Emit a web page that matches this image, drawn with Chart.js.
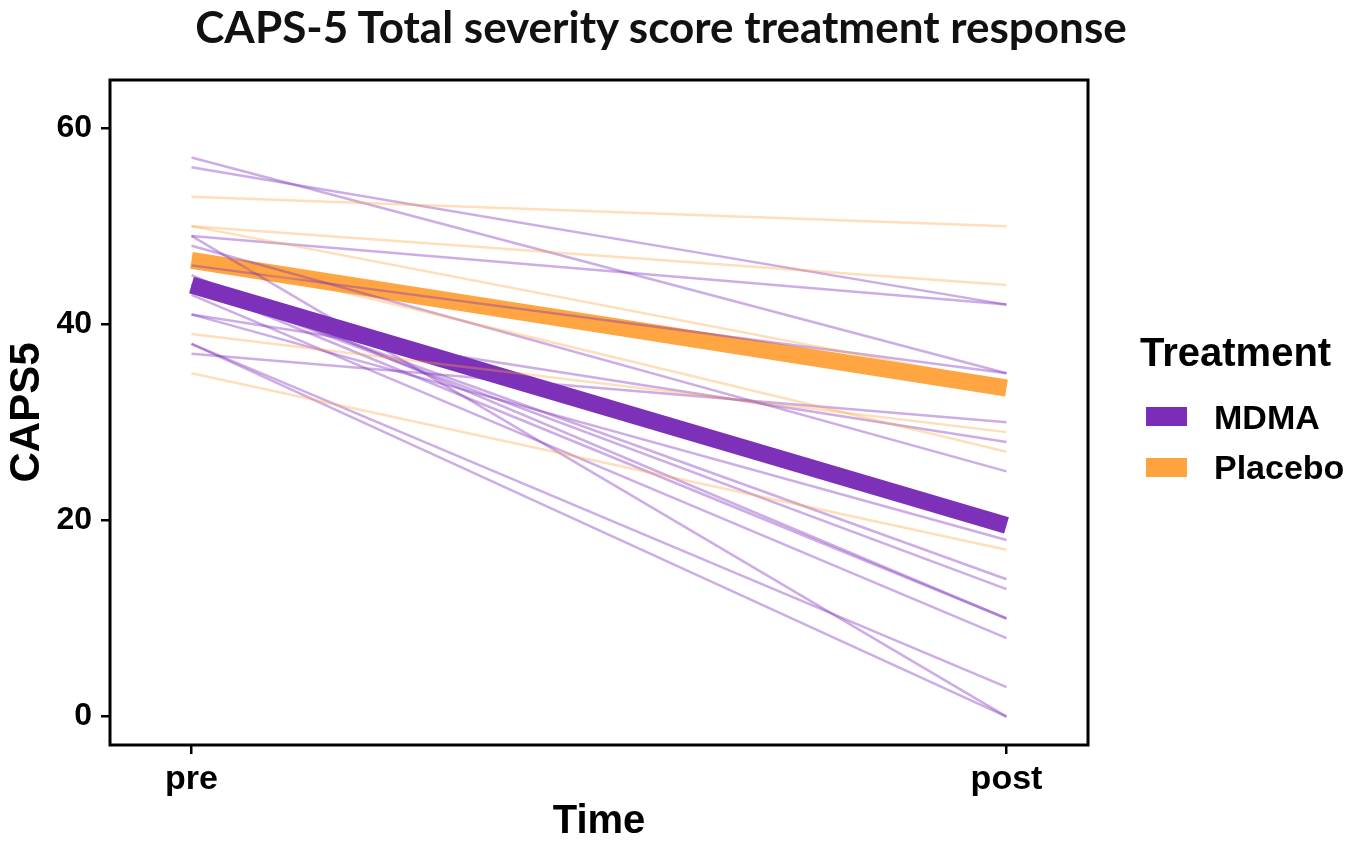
<!DOCTYPE html>
<html>
<head>
<meta charset="utf-8">
<script src="https://cdn.jsdelivr.net/npm/chart.js@4.4.1/dist/chart.umd.min.js"></script>
<style>
  body { margin: 0; background: #fff; }
  #wrap { position: relative; width: 1360px; height: 842px; }
  #title { position: absolute; left: 0; width: 1322px; top: 0px; text-align: center;
    font: 700 44px Lato, "Open Sans", sans-serif; color: #111; }
  .leg { position: absolute; font-family: "Liberation Sans", Arial, sans-serif; font-weight: 700; color: #000; }
  .box { position: absolute; width: 41px; height: 19px; }
</style>
</head>
<body>
<div id="wrap">
  <canvas id="chart" width="1360" height="842"></canvas>
  <div id="title">CAPS-5 Total severity score treatment response</div>
  <div class="leg" style="left:1140px; top:330px; font-size:40px;">Treatment</div>
  <div class="box" style="left:1146px; top:407px; background:#7b2cb8;"></div>
  <div class="leg" style="left:1214px; top:398px; font-size:34px;">MDMA</div>
  <div class="box" style="left:1146px; top:458px; background:#ffa33f;"></div>
  <div class="leg" style="left:1214px; top:448px; font-size:34px;">Placebo</div>
</div>
<script>
const timeLabels = ['pre', 'post'];
const yTicks = [0, 20, 40, 60];

// individual participants
const mdmaPre  = [57, 56, 49, 49, 48, 45, 44, 44, 43, 46, 41, 41, 38, 38, 37, 44];
const mdmaPost = [35, 42, 42, 0, 25, 10, 14, 13, 8, 35, 28, 18, 3, 0, 30, 10];
const placeboPre  = [53, 50, 50, 47, 39, 35];
const placeboPost = [50, 44, 34, 27, 29, 17];

// group means
const mdmaMean = [44, 19.5];
const placeboMean = [46.5, 33.5];

const pair = (a, b) => [{ x: 0, y: a }, { x: 1, y: b }];

const datasets = [];
placeboPre.forEach((v, i) => datasets.push({
  data: pair(v, placeboPost[i]), borderColor: 'rgba(255,160,60,0.35)', borderWidth: 2.5
}));
mdmaPre.forEach((v, i) => datasets.push({
  data: pair(v, mdmaPost[i]), borderColor: 'rgba(128,50,190,0.4)', borderWidth: 2.5
}));
datasets.push({ data: pair(placeboMean[0], placeboMean[1]), borderColor: 'rgba(255,160,55,0.95)', borderWidth: 17 });
datasets.push({ data: pair(mdmaMean[0], mdmaMean[1]), borderColor: 'rgba(118,38,180,0.95)', borderWidth: 17 });

const frame = {
  id: 'frame',
  afterDraw(chart) {
    const { ctx, chartArea: a } = chart;
    ctx.save();
    ctx.strokeStyle = '#000';
    ctx.lineWidth = 3;
    ctx.strokeRect(a.left, a.top, a.right - a.left, a.bottom - a.top);
    ctx.restore();
  }
};

const tickFont = { family: 'Liberation Sans, Arial, sans-serif', weight: 'bold' };

new Chart(document.getElementById('chart'), {
  type: 'line',
  data: { datasets: datasets },
  options: {
    responsive: false,
    animation: false,
    devicePixelRatio: 1,
    layout: { padding: { top: 80, right: 272, left: 0, bottom: 0 } },
    elements: { point: { radius: 0 }, line: { borderCapStyle: 'butt', tension: 0 } },
    plugins: { legend: { display: false }, tooltip: { enabled: false } },
    scales: {
      x: {
        type: 'linear', min: -0.1, max: 1.1,
        afterBuildTicks: s => { s.ticks = [{ value: 0 }, { value: 1 }]; },
        afterFit: s => { s.height = 97; },
        ticks: { callback: v => timeLabels[v], color: '#000', padding: 5, font: { ...tickFont, size: 34 } },
        grid: { display: true, drawOnChartArea: false, drawTicks: true, tickLength: 9, tickColor: '#000', lineWidth: 2.5 },
        border: { display: false },
        title: { display: true, text: 'Time', color: '#000', padding: { top: 0, bottom: -4 }, font: { ...tickFont, size: 40 } }
      },
      y: {
        min: -2.9, max: 64.9,
        afterBuildTicks: s => { s.ticks = yTicks.map(v => ({ value: v })); },
        afterFit: s => { s.width = 110; },
        ticks: { color: '#000', padding: 9, font: { ...tickFont, size: 32 } },
        grid: { display: true, drawOnChartArea: false, drawTicks: true, tickLength: 9, tickColor: '#000', lineWidth: 2.5 },
        border: { display: false },
        title: { display: true, text: 'CAPS5', color: '#000', padding: { top: 2, bottom: 0 }, font: { ...tickFont, size: 42 } }
      }
    }
  },
  plugins: [frame]
});
</script>
</body>
</html>
